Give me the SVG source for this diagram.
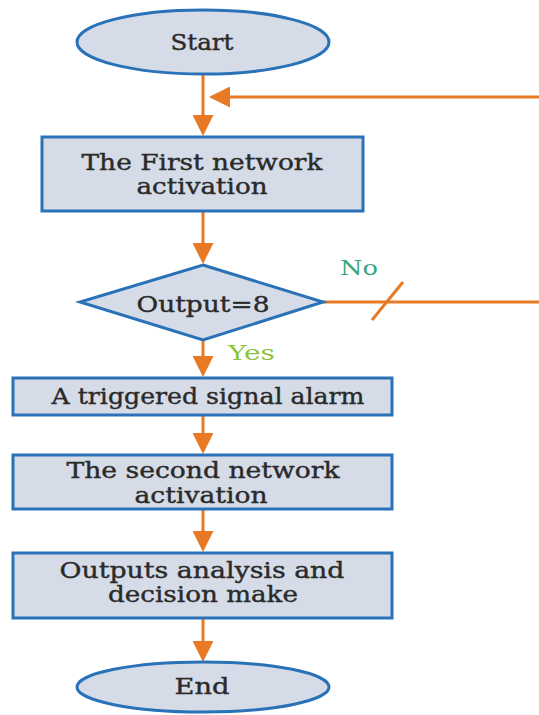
<svg xmlns="http://www.w3.org/2000/svg" width="539" height="715" viewBox="0 0 539 715">
<style>
.node{fill:#d5dce7;stroke:#2a72b8;stroke-width:3}
.t{font-family:"DejaVu Serif","Liberation Serif",serif;font-size:23px;fill:#2a2a2a;stroke:#2a2a2a;stroke-width:0.4;text-anchor:middle}
.c{stroke:#e87a25;stroke-width:3;fill:none}
.lbl{font-family:"DejaVu Serif","Liberation Serif",serif;font-size:20px}
</style>
<defs>
<marker id="ah" markerWidth="7" markerHeight="7" refX="6" refY="3.5" orient="auto" markerUnits="strokeWidth">
<path d="M0,0 L7,3.5 L0,7 z" fill="#e87a25"/>
</marker>
</defs>
<rect width="539" height="715" fill="#ffffff"/>
<g id="connectors">
<line class="c" x1="203" y1="75" x2="203" y2="133" marker-end="url(#ah)"/>
<line class="c" x1="539" y1="97" x2="212" y2="97" marker-end="url(#ah)"/>
<line class="c" x1="203" y1="212" x2="203" y2="261" marker-end="url(#ah)"/>
<line class="c" x1="323" y1="302" x2="539" y2="302"/>
<line class="c" x1="372" y1="320" x2="403" y2="282"/>
<line class="c" x1="203" y1="340" x2="203" y2="374" marker-end="url(#ah)"/>
<line class="c" x1="203" y1="415" x2="203" y2="451" marker-end="url(#ah)"/>
<line class="c" x1="203" y1="509" x2="203" y2="549" marker-end="url(#ah)"/>
<line class="c" x1="203" y1="618" x2="203" y2="659" marker-end="url(#ah)"/>
<text class="lbl" x="340" y="275" fill="#3aa57a" textLength="38" lengthAdjust="spacingAndGlyphs">No</text>
<text class="lbl" x="228" y="360" fill="#8cc43c" textLength="47" lengthAdjust="spacingAndGlyphs">Yes</text>
</g>
<g id="start">
<ellipse class="node" cx="203" cy="42" rx="126" ry="32"/>
<text class="t" x="202" y="50" textLength="63" lengthAdjust="spacingAndGlyphs">Start</text>
</g>
<g id="first">
<rect class="node" x="42" y="137" width="321" height="74"/>
<text class="t" x="202" y="170" textLength="241" lengthAdjust="spacingAndGlyphs">The First network</text>
<text class="t" x="202" y="194" textLength="131" lengthAdjust="spacingAndGlyphs">activation</text>
</g>
<g id="decision">
<polygon class="node" points="203,265 323,302 203,340 80,302"/>
<text class="t" x="203" y="312" textLength="133" lengthAdjust="spacingAndGlyphs">Output=8</text>
</g>
<g id="alarm">
<rect class="node" x="13" y="378" width="379" height="37"/>
<text class="t" x="208" y="404" textLength="313" lengthAdjust="spacingAndGlyphs">A triggered signal alarm</text>
</g>
<g id="second">
<rect class="node" x="13" y="455" width="379" height="54"/>
<text class="t" x="203" y="478" textLength="273" lengthAdjust="spacingAndGlyphs">The second network</text>
<text class="t" x="201" y="503" textLength="133" lengthAdjust="spacingAndGlyphs">activation</text>
</g>
<g id="analysis">
<rect class="node" x="13" y="553" width="379" height="65"/>
<text class="t" x="202" y="578" textLength="285" lengthAdjust="spacingAndGlyphs">Outputs analysis and</text>
<text class="t" x="203" y="602" textLength="190" lengthAdjust="spacingAndGlyphs">decision make</text>
</g>
<g id="end">
<ellipse class="node" cx="203" cy="687" rx="126" ry="25"/>
<text class="t" x="202" y="694" textLength="55" lengthAdjust="spacingAndGlyphs">End</text>
</g>
</svg>
